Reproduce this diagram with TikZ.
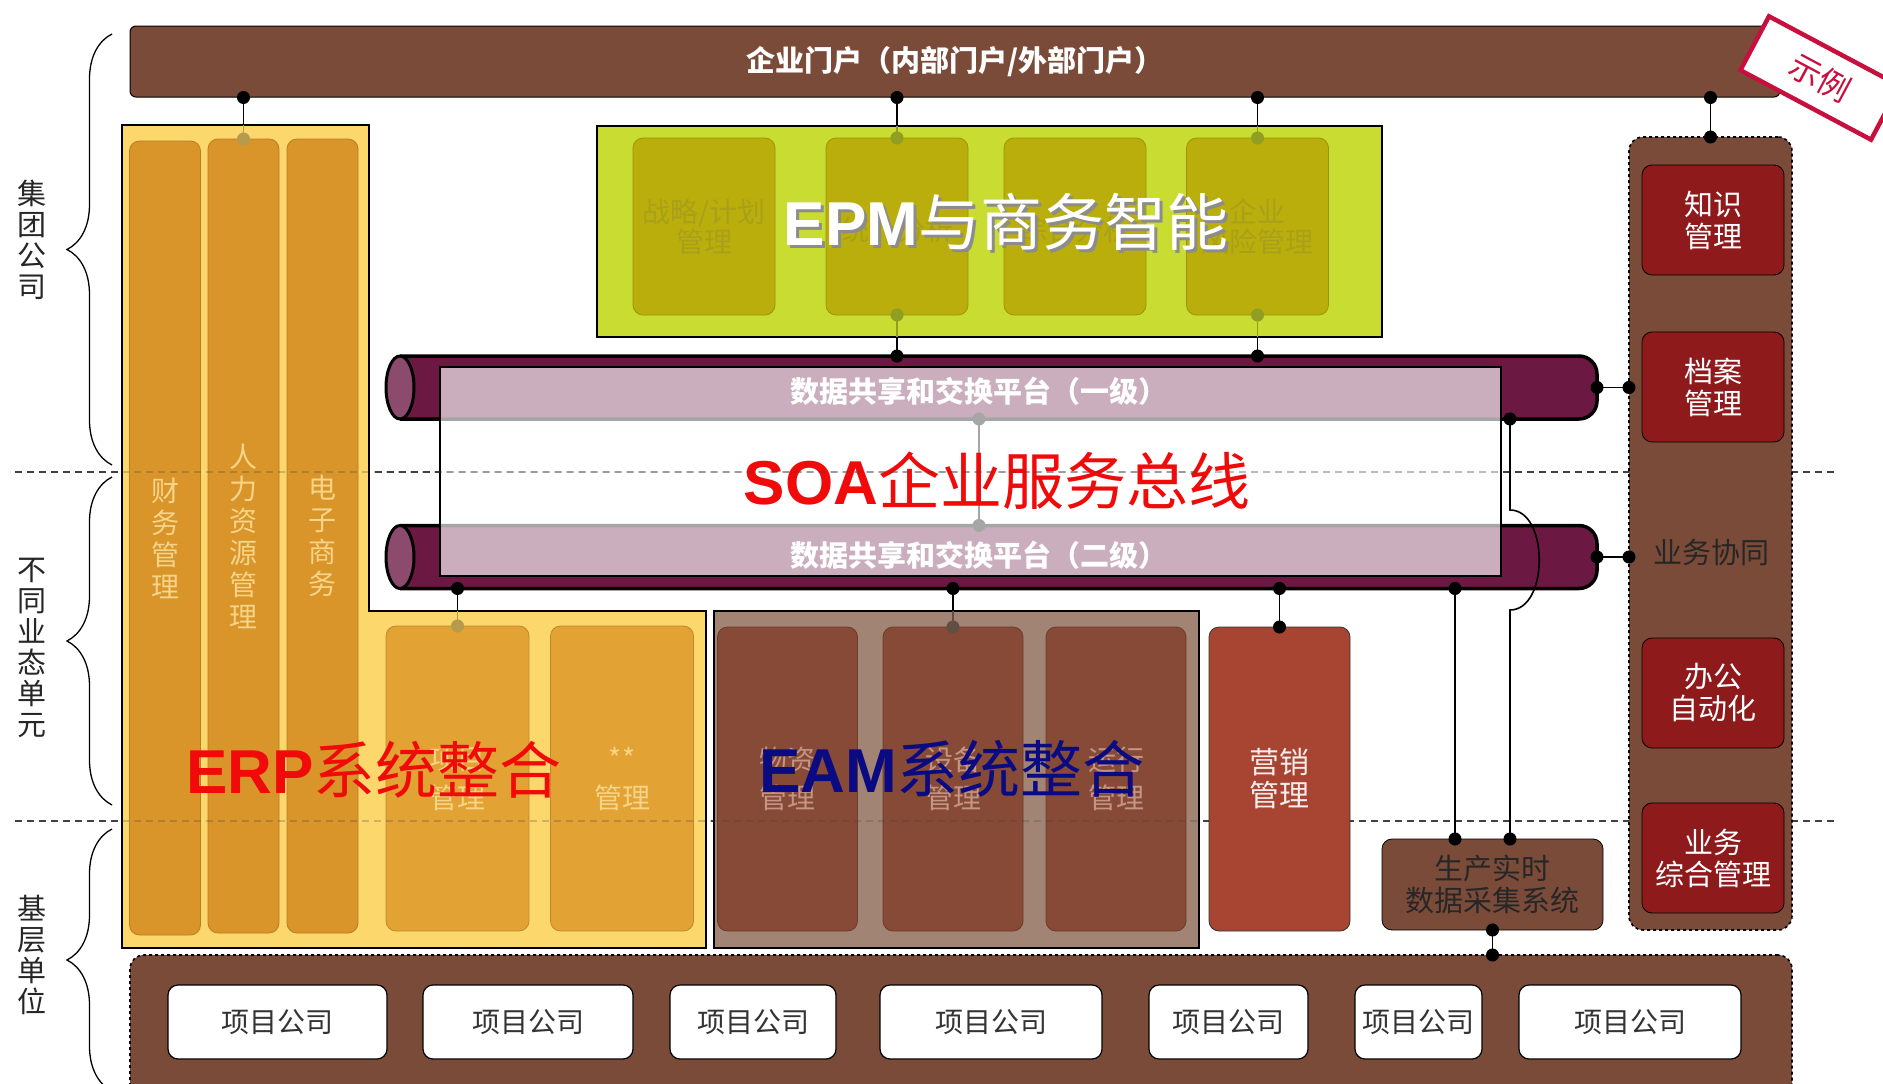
\documentclass[tikz,border=0pt]{standalone}
\usepackage{fontspec}
\setmainfont{Noto Sans CJK SC}
\newfontfamily\latinsans{Liberation Sans}
\usetikzlibrary{arrows.meta,decorations.pathreplacing}
\definecolor{Brown}{HTML}{7B4B3A}
\definecolor{ErpBack}{HTML}{FCD76C}
\definecolor{ErpCol}{HTML}{D9942A}
\definecolor{ErpBox}{HTML}{E2A234}
\definecolor{ErpText}{HTML}{F6D488}
\definecolor{EpmBack}{HTML}{C8DC32}
\definecolor{EpmBox}{HTML}{BAAE0C}
\definecolor{EpmText}{HTML}{A9A01A}
\definecolor{BusDark}{HTML}{6B1842}
\definecolor{BusCap}{HTML}{8C4A6C}
\definecolor{EamBack}{HTML}{A28474}
\definecolor{EamBox}{HTML}{874A36}
\definecolor{EamText}{HTML}{C39585}
\definecolor{Market}{HTML}{A84532}
\definecolor{RedBox}{HTML}{8E1A1C}
\definecolor{Stamp}{HTML}{C8103E}
\definecolor{Navy}{HTML}{0A0A82}
\definecolor{TitleRed}{HTML}{F00A0A}

\begin{document}
\begin{tikzpicture}[x=1pt,y=-1pt,
lvl/.style={dash pattern=on 7pt off 5pt,line width=1.6pt,black!75},
brc/.style={decorate,decoration={brace,amplitude=45pt},line width=1.3pt},
side/.style={align=center,font=\fontsize{29}{31}\selectfont,text=black!85},
bar/.style={fill=Brown,draw=black,line width=1pt,rounded corners=6pt,minimum width=1650,minimum height=71,text=white,font=\fontsize{29}{32}\selectfont\bfseries},
grp/.style={draw=black,line width=1.5pt,inner sep=0pt,outer sep=0pt},
box/.style={rounded corners=10pt,inner sep=0pt,outer sep=0pt,align=center,line width=0.8pt},
col/.style={box,fill=ErpCol,draw=ErpCol!85!black,minimum width=71,minimum height=794,text=ErpText,font=\fontsize{28}{32}\selectfont},
erpbox/.style={box,fill=ErpBox,draw=ErpBox!85!black,minimum width=143,minimum height=305,text=ErpText,font=\fontsize{28}{39}\selectfont},
epmbox/.style={box,fill=EpmBox,draw=EpmBox!85!black,minimum width=142,minimum height=177,text=EpmText,font=\fontsize{28}{30}\selectfont},
eambox/.style={box,fill=EamBox,draw=EamBox!80!black,minimum width=140,minimum height=304,text=EamText,font=\fontsize{28}{38}\selectfont},
redbox/.style={box,fill=RedBox,draw=black,minimum width=142,minimum height=110,text=white,font=\fontsize{29}{32}\selectfont},
panel/.style={fill=Brown,draw=black,dashed,line width=1.6pt,rounded corners=14pt,inner sep=0pt,outer sep=0pt},
unit/.style={box,fill=white,draw=black,line width=1.2pt,minimum height=74,font=\fontsize{28}{30}\selectfont,text=black!80},
big/.style={inner sep=0pt,font=\fontsize{62}{70}\selectfont},
bus/.style={fill=BusDark,draw=black,line width=3.5pt,rounded corners=18pt},
buscap/.style={fill=BusCap,draw=black,line width=3pt},
busarea/.style={inner sep=0pt,outer sep=0pt,minimum width=1197,minimum height=63},
bustext/.style={text=white,font=\fontsize{29}{31}\selectfont\bfseries},
lnk/.style={{Circle[length=13pt]}-{Circle[length=13pt]},shorten <=-6.5pt,shorten >=-6.5pt,line width=1.6pt},
lnks/.style={{Circle[length=13pt]}-,shorten <=-6.5pt,line width=1.6pt},
lnke/.style={-{Circle[length=13pt]},shorten >=-6.5pt,line width=1.6pt}]
\useasboundingbox (0,0) rectangle (1883,1084);
\clip (0,0) rectangle (1883,1084);

\foreach \y in {472,821} \draw[lvl] (15,\y) -- (1835,\y);

\draw[brc] (112,465) -- (112,34);
\draw[brc] (112,805) -- (112,477);
\draw[brc] (112,1091) -- (112,829);
\node[side] (grpco) at (32,240) {集\\团\\公\\司};
\node[side] (bizunit) at (32,648) {不\\同\\业\\态\\单\\元};
\node[side] (baseunit) at (32,955) {基\\层\\单\\位};

\node[bar] (portal) at (955,61.5) {企业门户（内部门户/外部门户）};

% SOA bus
\node[busarea] (busa) at (998.5,387.5) {};
\node[busarea] (busb) at (998.5,557) {};
\foreach \b in {busa,busb} {
  \filldraw[bus] (\b.north west) -- (\b.north east) -- (\b.south east) -- (\b.south west);
  \filldraw[buscap] (\b.west) ellipse (14 and 31.5);
}
\coordinate (lvx) at (979,391);
\draw[lnk] (lvx |- busa.south) -- (lvx |- busb.north);
\node[fill=white,fill opacity=.65,draw=black,line width=1.5pt,minimum width=1061,minimum height=209,inner sep=0pt] (soa) at (970.5,471.5) {};
\node[bustext] (lva) at (979,391) {数据共享和交换平台（一级）};
\node[bustext] (lvb) at (979,555) {数据共享和交换平台（二级）};
\node[big,text=TitleRed] (soat) at (997,481) {{\latinsans\bfseries SOA}企业服务总线};

% ERP
\filldraw[fill=ErpBack,draw=black,line width=1.5pt] (122,125) -- (369,125) -- (369,611) -- (706,611) -- (706,948) -- (122,948) -- cycle;
\coordinate (erptop) at (122,125);
\coordinate (erpstep) at (369,611);
\node[col] (fin) at (165,538) {财\\务\\管\\理};
\node[col] (hr) at (243.5,536) {人\\力\\资\\源\\管\\理};
\node[col] (ec) at (322.5,536) {电\\子\\商\\务};
\node[erpbox] (pm1) at (457.5,778.5) {项目\\管理};
\node[erpbox] (pm2) at (622,778.5) {**\\管理};
\node[big,text=TitleRed] (erpt) at (374,770) {{\latinsans\bfseries ERP}系统整合};

% EPM
\node[grp,fill=EpmBack,minimum width=785,minimum height=211] (epm) at (989.5,231.5) {};
\node[epmbox] (ea) at (704,226.5) {战略/计划\\管理};
\node[epmbox] (eb) at (897,226.5) {\mbox{}\\统计分析};
\node[epmbox] (ec2) at (1075,226.5) {\mbox{}\\综合分析};
\node[epmbox] (ed) at (1257.5,226.5) {企业\\风险管理};
\node[big,text=black!45] (epms) at (1009,225) {{\latinsans\bfseries EPM}与商务智能};
\node[big,text=white] (epmt) at (1006,222) {{\latinsans\bfseries EPM}与商务智能};

% EAM
\node[grp,fill=EamBack,minimum width=485,minimum height=337] (eam) at (956.5,779.5) {};
\node[eambox] (m1) at (787.5,779) {物资\\管理};
\node[eambox] (m2) at (953,779) {设备\\管理};
\node[eambox] (m3) at (1116,779) {运行\\管理};
\node[big,text=Navy] (eamt) at (952,769) {{\latinsans\bfseries EAM}系统整合};

\foreach \y in {472,821} \draw[lvl,opacity=.25] (122,\y) -- (1200,\y);

\node[box,fill=Market,draw=black!80,minimum width=141,minimum height=304,text=white!90!Market,font=\fontsize{30}{33}\selectfont] (mk) at (1279.5,779) {营销\\管理};
\node[box,fill=Brown,draw=black,minimum width=221,minimum height=91,text=black!85,font=\fontsize{29}{32}\selectfont] (da) at (1492.5,884.5) {生产实时\\数据采集系统};

% right panel
\node[panel,minimum width=163,minimum height=793] (rp) at (1710.5,533.5) {};
\foreach \n/\y/\t in {km/220/{知识\\管理},ar/387/{档案\\管理},oa/693/{办公\\自动化},bm/858/{业务\\综合管理}}
  \node[redbox] (\n) at (1713,\y) {\t};
\node[text=black!85,font=\fontsize{29}{32}\selectfont] (coop) at (1711,552) {业务协同};

% base units
\node[panel,minimum width=1662,minimum height=160] (bp) at (961,1035) {};
\foreach \n/\a/\b in {u1/168/387,u2/423/633,u3/670/836,u4/880/1102,u5/1149/1308,u6/1355/1482,u7/1519/1741}
  \node[unit,minimum width=\b-\a] (\n) at ({(\a+\b)/2},1022) {项目公司};

% connectors
\foreach \c/\g/\f in {hr/erptop/ErpBack,eb/epm.north/EpmBack,ed/epm.north/EpmBack} {
  \draw[lnks] (portal.south -| \c.north) -- (\c.north |- \g);
  \draw[lnke,\f!72!black] (\c.north |- \g) -- (\c.north);
}
\foreach \c in {eb,ed} {
  \draw[lnks,EpmBack!72!black] (\c.south) -- (\c.south |- epm.south);
  \draw[lnke] (\c.south |- epm.south) -- (\c.south |- busa.north);
}
\draw[lnks] (busb.south -| pm1.north) -- (pm1.north |- erpstep);
\draw[lnke,ErpBack!72!black] (pm1.north |- erpstep) -- (pm1.north);
\draw[lnks] (busb.south -| m2.north) -- (m2.north |- eam.north);
\draw[lnke,EamBack!60!black] (m2.north |- eam.north) -- (m2.north);
\draw[lnk] (busb.south -| mk.north) -- (mk.north);
\coordinate (dl) at ([xshift=-37.5pt]da.north);
\coordinate (dr) at ([xshift=17.5pt]da.north);
\draw[lnk] (dl |- busb.south) -- (dl);
\draw[lnk] (dr |- busa.south) -- ++(0,91) to[out=0,in=0] ++(0,100) -- (dr);
\draw[lnk] (da.south) -- (da.south |- bp.north);
\foreach \b in {busa,busb} \draw[lnk] (\b.east) -- (\b.east -| rp.west);
\draw[lnk] (portal.south -| rp.north) -- (rp.north);

\node[draw=Stamp,line width=4.5pt,fill=white,rotate=-28,minimum width=148,minimum height=61,text=Stamp,font=\fontsize{32}{34}\selectfont] (demo) at (1820,78) {示例};
\end{tikzpicture}
\end{document}
